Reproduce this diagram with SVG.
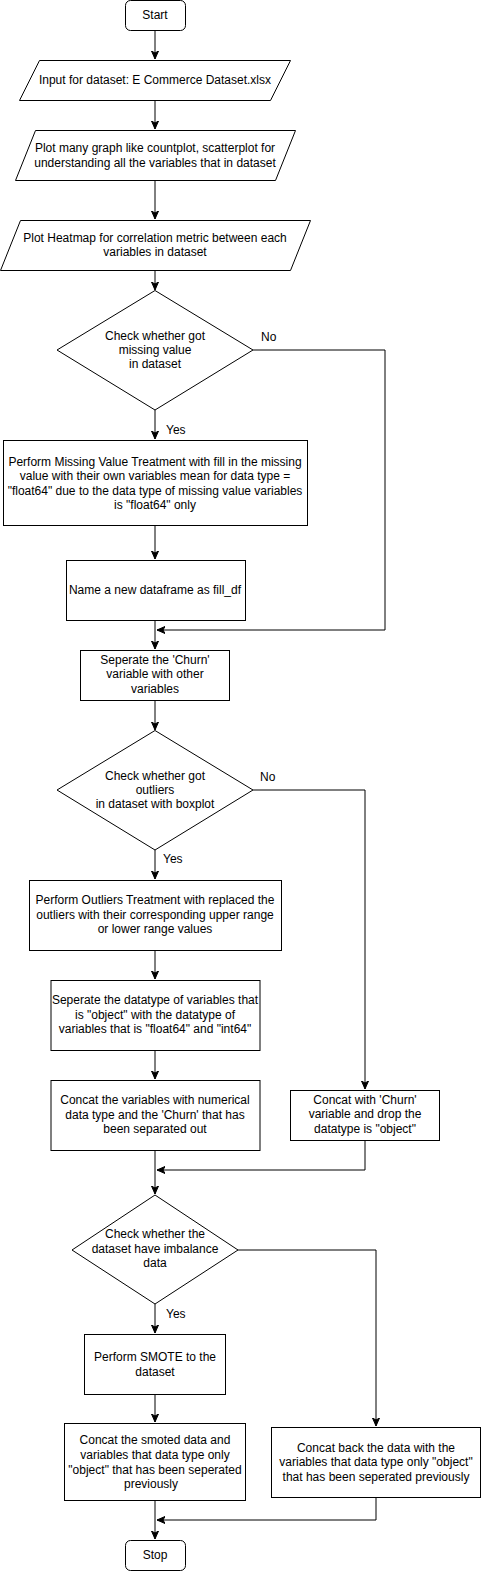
<svg xmlns="http://www.w3.org/2000/svg" width="481" height="1571" viewBox="0 0 481 1571">
<style>
.s{fill:#fff;stroke:#000;stroke-width:1}
.t{font-family:"Liberation Sans",Arial,sans-serif;font-size:12px;fill:#000;text-anchor:middle;dominant-baseline:central}
.l{font-family:"Liberation Sans",Arial,sans-serif;font-size:12px;fill:#000;dominant-baseline:central}
.c{fill:none;stroke:#000;stroke-width:1}
</style>
<defs>
<marker id="a" markerWidth="10" markerHeight="10" refX="8" refY="4" orient="auto" markerUnits="userSpaceOnUse">
<path d="M0,0.5 L8,4 L0,7.5 L2,4 z" fill="#000" stroke="#000" stroke-width="1"/>
</marker>
</defs>
<rect width="481" height="1571" fill="#fff"/>
<g id="connectors">
<path class="c" d="M155,30 V59" marker-end="url(#a)"/>
<path class="c" d="M155,100 V129" marker-end="url(#a)"/>
<path class="c" d="M155,180 V219" marker-end="url(#a)"/>
<path class="c" d="M155,270 V290" marker-end="url(#a)"/>
<path class="c" d="M155,410 V439" marker-end="url(#a)"/>
<path class="c" d="M253,350 H385 V630 H157" marker-end="url(#a)"/>
<path class="c" d="M155,525 V559" marker-end="url(#a)"/>
<path class="c" d="M155,620 V649" marker-end="url(#a)"/>
<path class="c" d="M155,700 V730" marker-end="url(#a)"/>
<path class="c" d="M155,850 V879" marker-end="url(#a)"/>
<path class="c" d="M253,790 H365 V1089" marker-end="url(#a)"/>
<path class="c" d="M155,950 V979" marker-end="url(#a)"/>
<path class="c" d="M155,1050 V1079" marker-end="url(#a)"/>
<path class="c" d="M155,1150 V1194" marker-end="url(#a)"/>
<path class="c" d="M365,1141 V1170 H157" marker-end="url(#a)"/>
<path class="c" d="M155,1304 V1333" marker-end="url(#a)"/>
<path class="c" d="M238,1250 H376 V1426" marker-end="url(#a)"/>
<path class="c" d="M155,1394 V1422" marker-end="url(#a)"/>
<path class="c" d="M155,1500 V1539" marker-end="url(#a)"/>
<path class="c" d="M376,1497 V1520 H157" marker-end="url(#a)"/>
<text class="l" x="261" y="337">No</text>
<text class="l" x="166" y="430">Yes</text>
<text class="l" x="260" y="777">No</text>
<text class="l" x="163" y="859">Yes</text>
<text class="l" x="166" y="1314">Yes</text>
</g>
<g id="start">
<rect class="s" x="125.5" y="0.5" width="60" height="30" rx="5"/>
<text class="t" x="155" y="15">Start</text>
</g>
<g id="input">
<polygon class="s" points="39.5,60.5 290.5,60.5 270.5,100.5 19.5,100.5"/>
<text class="t" x="155" y="80">Input for dataset: E Commerce Dataset.xlsx</text>
</g>
<g id="plot-graphs">
<polygon class="s" points="35.5,130.5 295.5,130.5 275.5,180.5 15.5,180.5"/>
<text class="t" x="155" y="148">Plot many graph like countplot, scatterplot for</text>
<text class="t" x="155" y="163">understanding all the variables that in dataset</text>
</g>
<g id="heatmap">
<polygon class="s" points="20.5,220.5 310.5,220.5 290.5,270.5 0.5,270.5"/>
<text class="t" x="155" y="238">Plot Heatmap for correlation metric between each</text>
<text class="t" x="155" y="252">variables in dataset</text>
</g>
<g id="check-missing">
<polygon class="s" points="155,290.5 253,350 155,410 57,350"/>
<text class="t" x="155" y="336">Check whether got</text>
<text class="t" x="155" y="350">missing value</text>
<text class="t" x="155" y="364">in dataset</text>
</g>
<g id="missing-treatment">
<rect class="s" x="3.5" y="440.5" width="304" height="85"/>
<text class="t" x="155" y="462">Perform Missing Value Treatment with fill in the missing</text>
<text class="t" x="155" y="476">value with their own variables mean for data type =</text>
<text class="t" x="155" y="491">"float64" due to the data type of missing value variables</text>
<text class="t" x="155" y="505">is "float64" only</text>
</g>
<g id="fill-df">
<rect class="s" x="66.5" y="560.5" width="179" height="60"/>
<text class="t" x="155" y="590">Name a new dataframe as fill_df</text>
</g>
<g id="separate-churn">
<rect class="s" x="80.5" y="650.5" width="149" height="50"/>
<text class="t" x="155" y="660">Seperate the 'Churn'</text>
<text class="t" x="155" y="674">variable with other</text>
<text class="t" x="155" y="689">variables</text>
</g>
<g id="check-outliers">
<polygon class="s" points="155,730.5 253,790 155,850 57,790"/>
<text class="t" x="155" y="776">Check whether got</text>
<text class="t" x="155" y="790">outliers</text>
<text class="t" x="155" y="804">in dataset with boxplot</text>
</g>
<g id="outlier-treatment">
<rect class="s" x="29.5" y="880.5" width="252" height="70"/>
<text class="t" x="155" y="900">Perform Outliers Treatment with replaced the</text>
<text class="t" x="155" y="915">outliers with their corresponding upper range</text>
<text class="t" x="155" y="929">or lower range values</text>
</g>
<g id="separate-datatype">
<rect class="s" x="51" y="980.5" width="209" height="70"/>
<text class="t" x="155" y="1000">Seperate the datatype of variables that</text>
<text class="t" x="155" y="1015">is "object" with the datatype of</text>
<text class="t" x="155" y="1029">variables that is "float64" and "int64"</text>
</g>
<g id="concat-numerical">
<rect class="s" x="51" y="1080.5" width="209" height="70"/>
<text class="t" x="155" y="1100">Concat the variables with numerical</text>
<text class="t" x="155" y="1115">data type and the 'Churn' that has</text>
<text class="t" x="155" y="1129">been separated out</text>
</g>
<g id="concat-churn">
<rect class="s" x="290.5" y="1090.5" width="149" height="50"/>
<text class="t" x="365" y="1100">Concat with 'Churn'</text>
<text class="t" x="365" y="1114">variable and drop the</text>
<text class="t" x="365" y="1129">datatype is "object"</text>
</g>
<g id="check-imbalance">
<polygon class="s" points="155,1195 238,1250 155,1304 72,1250"/>
<text class="t" x="155" y="1234">Check whether the</text>
<text class="t" x="155" y="1249">dataset have imbalance</text>
<text class="t" x="155" y="1263">data</text>
</g>
<g id="smote">
<rect class="s" x="84.5" y="1334.5" width="141" height="60"/>
<text class="t" x="155" y="1357">Perform SMOTE to the</text>
<text class="t" x="155" y="1372">dataset</text>
</g>
<g id="concat-smoted">
<rect class="s" x="64.5" y="1423.5" width="181" height="77"/>
<text class="t" x="155" y="1440">Concat the smoted data and</text>
<text class="t" x="155" y="1455">variables that data type only</text>
<text class="t" x="155" y="1470">"object" that has been seperated</text>
<text class="t" x="151" y="1484">previously</text>
</g>
<g id="concat-back">
<rect class="s" x="271.5" y="1427.5" width="209" height="70"/>
<text class="t" x="376" y="1448">Concat back the data with the</text>
<text class="t" x="376" y="1462">variables that data type only "object"</text>
<text class="t" x="376" y="1477">that has been seperated previously</text>
</g>
<g id="stop">
<rect class="s" x="125.5" y="1540.5" width="60" height="30" rx="5"/>
<text class="t" x="155" y="1555">Stop</text>
</g>
</svg>
